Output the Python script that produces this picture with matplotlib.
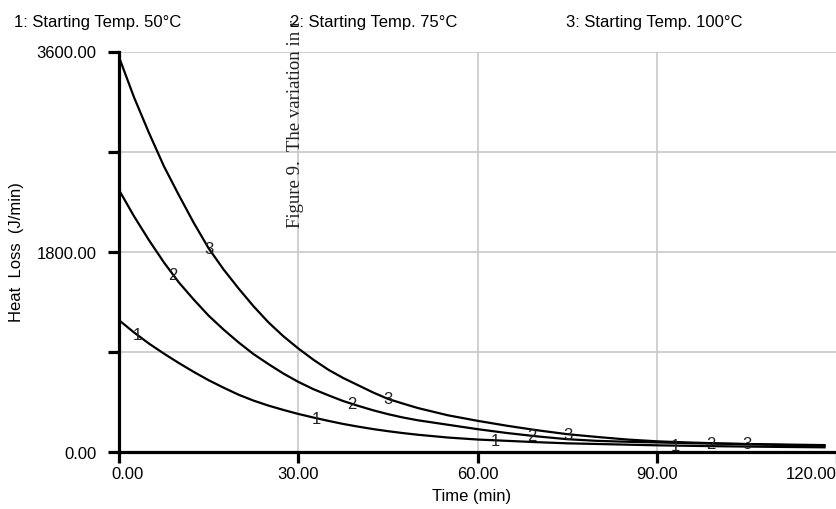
import matplotlib
matplotlib.use("Agg")
import matplotlib.pyplot as plt
import matplotlib.transforms as mtransforms
import numpy as np

plt.rcParams['font.family'] = ['Liberation Sans', 'DejaVu Sans']

# ---- data ----
time_min = [0, 2.5, 5, 7.5, 10, 12.5, 15, 17.5, 20, 22.5,
            25, 27.5, 30, 32.5, 35, 37.5, 40, 42.5, 45, 47.5,
            50, 55, 60, 65, 70, 75, 80, 85, 90,
            95, 100, 105, 110, 118]
heat_50 = [1185, 1075, 975, 885, 800, 720, 645, 578, 515, 462,
           417, 378, 342, 310, 280, 252, 228, 206, 187, 170,
           155, 130, 112, 100, 88, 78, 72, 66, 60,
           56, 52, 49, 46, 42]
heat_75 = [2355, 2120, 1905, 1705, 1525, 1370, 1225, 1100, 985, 880,
           790, 705, 630, 565, 510, 458, 415, 375, 340, 310,
           285, 245, 205, 170, 140, 115, 100, 92, 86,
           80, 75, 70, 64, 56]
heat_100 = [3550, 3190, 2870, 2570, 2310, 2060, 1830, 1640, 1470, 1310,
            1165, 1040, 930, 830, 740, 665, 600, 535, 477, 435,
            395, 330, 280, 235, 195, 160, 135, 112, 96,
            86, 78, 72, 68, 62]

series_names = ["1: Starting Temp. 50\u00b0C", "2: Starting Temp. 75\u00b0C", "3: Starting Temp. 100\u00b0C"]
series_ids = ["1", "2", "3"]
label_times = [[3, 33, 63, 93], [9, 39, 69, 99], [15, 45, 75, 105]]

x_ticks = [0, 30, 60, 90, 120]
x_ticklabels = ["0.00", "30.00", "60.00", "90.00", "120.00"]
y_ticks = [0, 900, 1800, 2700, 3600]
y_ticklabels = ["0.00", "", "1800.00", "", "3600.00"]

W, H = 836, 510
fig = plt.figure(figsize=(W / 100, H / 100), dpi=100)
ax = fig.add_axes([119 / W, 57 / H, 717.5 / W, 400.5 / H])

for vals, sid, lts in zip([heat_50, heat_75, heat_100], series_ids, label_times):
    ax.plot(time_min, vals, color='black', lw=1.6, zorder=3)
    for lt in lts:
        ax.text(lt, np.interp(lt, time_min, vals), sid, ha='center', va='center',
                fontsize=12, color='#222222', zorder=4)

ax.set_xlim(0, 120)
ax.set_ylim(0, 3600)
ax.set_xticks(x_ticks)
ax.set_xticklabels(x_ticklabels)
ax.set_yticks(y_ticks)
ax.set_yticklabels(y_ticklabels)

ax.grid(True, color='#c8c8c8', lw=1.2, zorder=0)
ax.set_axisbelow(True)
for s in ['top', 'right']:
    ax.spines[s].set_visible(False)
for s in ['left', 'bottom']:
    ax.spines[s].set_linewidth(2.3)
    ax.spines[s].set_zorder(5)

ax.tick_params(axis='y', direction='out', length=8, width=2.3, pad=8, labelsize=12)
ax.tick_params(axis='x', direction='out', length=8, width=2.3, pad=2, labelsize=12)

xl = ax.get_xticklabels()
xl[0].set_horizontalalignment('left')
xl[0].set_transform(xl[0].get_transform() + mtransforms.ScaledTranslation(-8 / 100, 0, fig.dpi_scale_trans))
xl[-1].set_horizontalalignment('right')

# legend-like titles
title_x = [14, 290, 566]
for tx, name in zip(title_x, series_names):
    fig.text(tx / W, 1 - 23 / H, name, ha='left', va='center', fontsize=12)

fig.text(17 / W, 1 - 252 / H, "Heat  Loss  (J/min)", rotation=90, ha='center', va='center', fontsize=12)
fig.text(472 / W, 1 - 497 / H, "Time (min)", ha='center', va='center', fontsize=12)

fig.text(295 / W, 1 - 228 / H, "Figure 9.  The variation in r", rotation=90, ha='center', va='bottom',
         family=['Liberation Serif', 'DejaVu Serif'], fontsize=13.5, color='#222222')

fig.savefig("out.png", dpi=100)
